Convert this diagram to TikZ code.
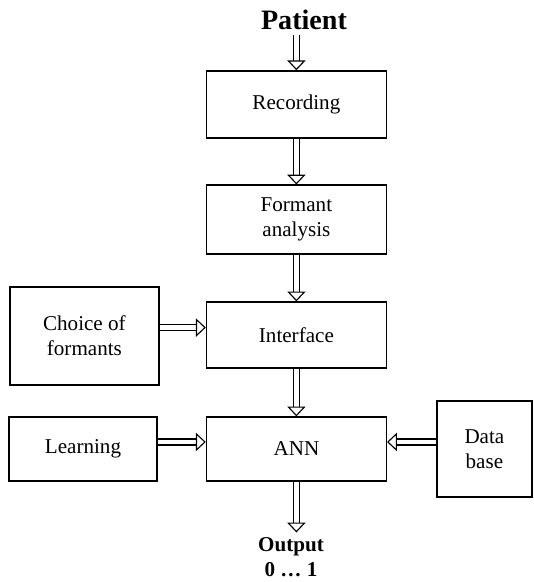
\documentclass[tikz,border=0pt]{standalone}
\usepackage{fontspec}
\setmainfont{Liberation Serif}
\usetikzlibrary{arrows.meta}

\tikzset{
    block/.style={draw, line width=0.9pt, minimum width=4.5cm, minimum height=1.65cm,
        align=center, font=\fontsize{15}{18}\selectfont},
    pipe/.style={double, double distance=3.5pt, line width=0.8pt,
        -{Triangle[open, length=7pt, width=13pt]}}
}

\begin{document}
\begin{tikzpicture}
    \useasboundingbox (0,0) rectangle (13.325,-14.55);

    \node(pat)[font=\fontsize{20}{23}\selectfont\bfseries] at (7.6,-0.5) {Patient};
    \node(rec)[block, minimum height=1.675cm] at (7.41,-2.61) {Recording};
    \node(fa)[block, minimum height=1.725cm] at (7.41,-5.49) {Formant\\analysis};
    \node(int)[block] at (7.41,-8.375) {Interface};
    \node(ann)[block, minimum height=1.6cm] at (7.41,-11.225) {ANN};

    \node(cho)[block, minimum width=3.725cm, minimum height=2.45cm] at (2.11,-8.4) {Choice of\\formants};
    \node(lea)[block, minimum width=3.7cm, minimum height=1.6cm] at (2.075,-11.225) {Learning};
    \node(db)[block, minimum width=2.375cm, minimum height=2.4cm] at (12.11,-11.225) {Data\\base};

    \node(out)[align=center, font=\fontsize{15}{18}\selectfont\bfseries] at (7.275,-13.93) {Output\\0 \dots\ 1};

    \draw[pipe] (rec |- pat.south) -- (rec.north);
    \draw[pipe] (rec) -- (fa);
    \draw[pipe] (fa) -- (int);
    \draw[pipe] (int) -- (ann);
    \draw[pipe] ([yshift=6pt]cho.east) -- ([yshift=6pt]cho.east -| int.west);
    \draw[pipe] ([yshift=5pt]lea.east) -- ([yshift=5pt]lea.east -| ann.west);
    \draw[pipe] ([yshift=5pt]db.west) -- ([yshift=5pt]db.west -| ann.east);
    \draw[pipe] (ann.south) -- (ann.south |- out.north);
\end{tikzpicture}
\end{document}
